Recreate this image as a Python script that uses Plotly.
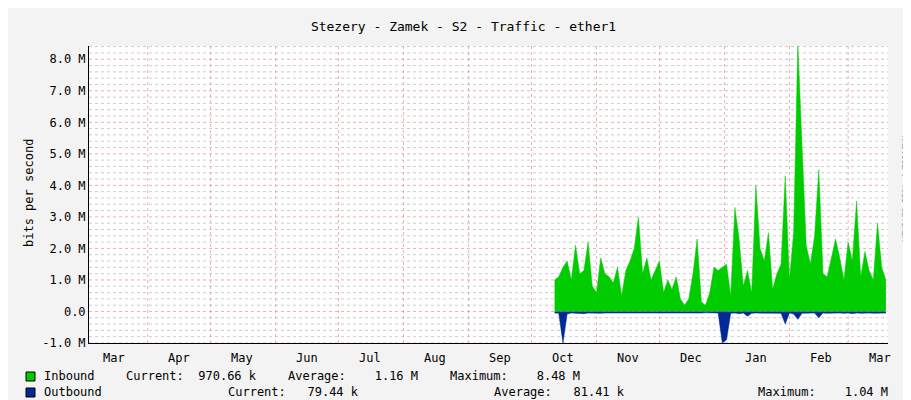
import plotly.graph_objects as go
import pandas as pd

start = "2022-10-12"
inbound_m = [1.0,1.1,1.4,1.6,1.0,2.1,1.2,1.3,2.2,0.8,
             0.6,1.7,1.2,1.1,0.9,1.4,0.5,1.3,1.6,2.0,3.0,1.2,1.7,1.0,1.3,
             1.6,0.6,1.0,0.7,1.1,0.4,0.2,0.4,1.2,2.3,0.3,0.2,0.6,1.4,1.3,
             1.4,1.5,0.5,3.3,2.3,0.8,1.3,0.6,4.0,2.0,1.6,2.5,0.7,1.2,1.5,4.3,
             1.0,2.5,8.5,5.3,2.1,1.5,2.4,4.5,1.2,1.1,1.7,2.3,
             1.7,1.0,2.2,1.6,3.5,1.1,1.9,1.3,1.0,2.8,1.4,1.0]
outbound_m = [-0.05,-0.06,-1.0,-0.08,-0.05,-0.06,-0.05,-0.07,-0.05,-0.06,
              -0.05,-0.06,-0.05,-0.05,-0.07,-0.05,-0.06,-0.05,-0.05,-0.06,-0.05,-0.07,-0.05,-0.06,-0.05,
              -0.05,-0.06,-0.05,-0.07,-0.05,-0.05,-0.06,-0.05,-0.06,-0.05,-0.05,-0.04,-0.05,-0.06,-0.05,
              -1.0,-0.9,-0.06,-0.05,-0.07,-0.05,-0.15,-0.06,-0.05,-0.05,-0.06,-0.05,-0.07,-0.05,-0.06,-0.4,
              -0.05,-0.08,-0.25,-0.06,-0.05,-0.06,-0.05,-0.2,-0.05,-0.06,-0.05,-0.06,
              -0.05,-0.06,-0.05,-0.07,-0.05,-0.06,-0.05,-0.05,-0.06,-0.05,-0.06,-0.05]
y_ticks = [-1, 0, 1, 2, 3, 4, 5, 6, 7, 8]
y_tick_text = ["-1.0 M", "0.0", "1.0 M", "2.0 M", "3.0 M", "4.0 M", "5.0 M", "6.0 M", "7.0 M", "8.0 M"]
month_labels = ["Mar","Apr","May","Jun","Jul","Aug","Sep","Oct","Nov","Dec","Jan","Feb","Mar"]

dates = pd.date_range(start, periods=len(inbound_m), freq="2D")
mid = pd.date_range("2022-03-01", periods=13, freq="MS") + pd.Timedelta(days=15)
bounds = pd.date_range("2022-04-01", periods=12, freq="MS")

fig = go.Figure()
fig.add_trace(go.Scatter(x=dates, y=[v*1e6 for v in inbound_m], mode="lines", line=dict(width=0.5, color="#00CC00"),
                         fill="tozeroy", fillcolor="#00CC00", showlegend=False))
fig.add_trace(go.Scatter(x=dates, y=[v*1e6 for v in outbound_m], mode="lines", line=dict(width=0.5, color="#002A97"),
                         fill="tozeroy", fillcolor="#002A97", showlegend=False))

x0, x1 = pd.Timestamp("2022-03-04"), pd.Timestamp("2023-03-20")
shapes = []
for b in bounds:
    shapes.append(dict(type="line", xref="x", yref="paper", x0=b, x1=b, y0=0, y1=1,
                       line=dict(color="rgba(230,120,120,0.6)", width=1, dash="dot"), layer="below"))
for i in range(-5, 43):
    v = i * 0.2e6
    col = "rgba(230,120,120,0.6)" if i % 5 == 0 else "rgba(170,170,170,0.6)"
    shapes.append(dict(type="line", xref="paper", yref="y", x0=0, x1=1, y0=v, y1=v,
                       line=dict(color=col, width=1, dash="dot"), layer="below"))

font = "DejaVu Sans Mono"
ann = []
for d, t in zip(mid, month_labels):
    ann.append(dict(x=d, y=-0.02, xref="x", yref="paper", text=t, showarrow=False, yanchor="top",
                    font=dict(family=font, size=12, color="#000")))
legend_rows = [
    (368, "#00CC00", [(34, "Inbound"), (116, "Current:  970.66 k"), (278, "Average:    1.16 M"), (440, "Maximum:    8.48 M")]),
    (384, "#002A97", [(34, "Outbound"), (218, "Current:   79.44 k"), (484, "Average:   81.41 k"), (748, "Maximum:    1.04 M")]),
]
for yy, col, items in legend_rows:
    shapes.append(dict(type="rect", xref="paper", yref="paper",
                       x0=(18-81)/799, x1=(27-81)/799, y0=(335-yy+4)/297, y1=(335-yy-5)/297,
                       fillcolor=col, line=dict(color="#000", width=1)))
    for px, t in items:
        ann.append(dict(x=(px-81)/799, y=(335-yy)/297, xref="paper", yref="paper", text=t.replace(" ", "&nbsp;"),
                        showarrow=False, xanchor="left", yanchor="middle",
                        font=dict(family=font, size=12, color="#000")))
ann.append(dict(x=(903-81)/799, y=(335-125)/297, xref="paper", yref="paper", text="RRDTOOL / TOBI OETIKER",
                textangle=90, showarrow=False, font=dict(family=font, size=8, color="#999")))
ann.append(dict(x=(12-81)/799, y=(335-185)/297, xref="paper", yref="paper", text="bits per second",
                textangle=-90, showarrow=False, font=dict(family=font, size=12, color="#000")))

fig.update_layout(
    width=911, height=400, margin=dict(l=81, r=31, t=38, b=65, autoexpand=False),
    paper_bgcolor="#F3F3F3", plot_bgcolor="#FFFFFF",
    title=dict(text="Stezery - Zamek - S2 - Traffic - ether1", x=0.5, y=0.965, xanchor="center",
               automargin=False, font=dict(family=font, size=13, color="#000")),
    xaxis=dict(range=[x0, x1], showgrid=False, showticklabels=False, zeroline=False, automargin=False,
               showline=True, linecolor="#000", linewidth=1),
    yaxis=dict(range=[-1e6, 8.42e6], tickvals=[v*1e6 for v in y_ticks], ticktext=y_tick_text,
               showgrid=False, zeroline=False, showline=True, linecolor="#000", linewidth=1, automargin=False,
               ticks="", tickfont=dict(family=font, size=12, color="#000")),
    shapes=shapes, annotations=ann, font=dict(family=font),
)
fig.write_html("out.html")
